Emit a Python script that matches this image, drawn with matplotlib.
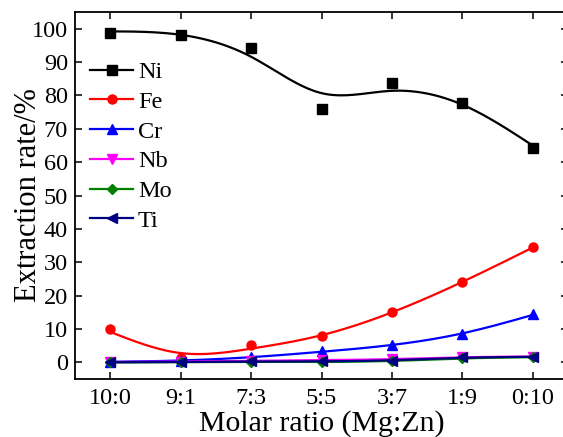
import numpy as np
import matplotlib
matplotlib.use("Agg")
import matplotlib.pyplot as plt

plt.rcParams['font.family'] = ['Liberation Serif', 'DejaVu Serif']

ratios = ["10:0", "9:1", "7:3", "5:5", "3:7", "1:9", "0:10"]
ni = [98.8, 98.2, 94.3, 76.0, 83.8, 77.8, 64.3]
fe = [9.9, 1.2, 5.1, 7.8, 15.0, 24.1, 34.5]
cr = [0.2, 0.5, 1.5, 3.3, 5.2, 8.4, 14.4]
nb = [0.1, 0.2, 0.5, 0.6, 0.9, 1.6, 1.7]
mo = [0.0, 0.0, 0.2, 0.1, 0.3, 1.3, 1.5]
ti = [0.0, 0.1, 0.3, 0.3, 0.5, 1.5, 1.6]


def smooth(y, lam=0.07, n=50):
    # penalised (smoothing-spline like) curve on a fine grid
    m = len(y)
    xs = np.linspace(0, m - 1, (m - 1) * n + 1)
    N = len(xs)
    h = 1.0 / n
    w = np.zeros(N)
    yy = np.zeros(N)
    w[::n] = 1.0
    yy[::n] = y
    D = np.diff(np.eye(N), 2, axis=0)
    A = np.diag(w) + lam / h ** 3 * D.T @ D
    return xs, np.linalg.solve(A, w * yy)


series = [
    ("Ni", ni, "black", "s"),
    ("Fe", fe, "red", "o"),
    ("Cr", cr, "blue", "^"),
    ("Nb", nb, "magenta", "v"),
    ("Mo", mo, "green", "D"),
    ("Ti", ti, "navy", "<"),
]

W, H = 563, 437
fig = plt.figure(figsize=(W / 100, H / 100), dpi=100)
ax = fig.add_axes([75 / W, 1 - 379 / H, 493 / W, 367 / H])

x = np.arange(len(ratios))
handles = []
for name, vals, col, mk in series:
    ms = 5.5 if mk == "D" else 6.5
    xs, ys = smooth(vals)
    ax.plot(xs, ys, color=col, lw=1.6)
    ax.plot(x, vals, ls="none", marker=mk, color=col, ms=ms)
    h, = ax.plot([], [], color=col, lw=1.6, marker=mk, ms=ms)
    handles.append(h)

ax.set_xlim(-0.5, 6.5)
ax.set_ylim(-5, 105)
ax.set_xticks(x)
ax.set_xticklabels(ratios)
ax.set_yticks(np.arange(0, 101, 10))
ax.tick_params(direction="in", length=5, width=1.1, labelsize=17.5,
               top=True, right=True)
ax.tick_params(axis="x", pad=6.5)
ax.tick_params(axis="y", pad=5)
for s in ax.spines.values():
    s.set_linewidth(1.3)

ax.set_ylabel("Extraction rate/%", fontsize=22)
ax.yaxis.set_label_coords((43 - 75) / 493, 0.5)
# x label placed by its baseline, centred on the axes
fig.text((75 + 568) / 2 / W, 1 - 430.5 / H, "Molar ratio (Mg:Zn)",
         fontsize=21.5, ha="center", va="baseline")

fig.legend(handles, [s[0] for s in series], loc="upper left",
           bbox_to_anchor=(90 / W, 1 - 61 / H), frameon=False,
           fontsize=17.5, borderpad=0, borderaxespad=0, handlelength=1.77,
           handletextpad=0.2, labelspacing=0.32)

fig.savefig("out.png", dpi=100)
